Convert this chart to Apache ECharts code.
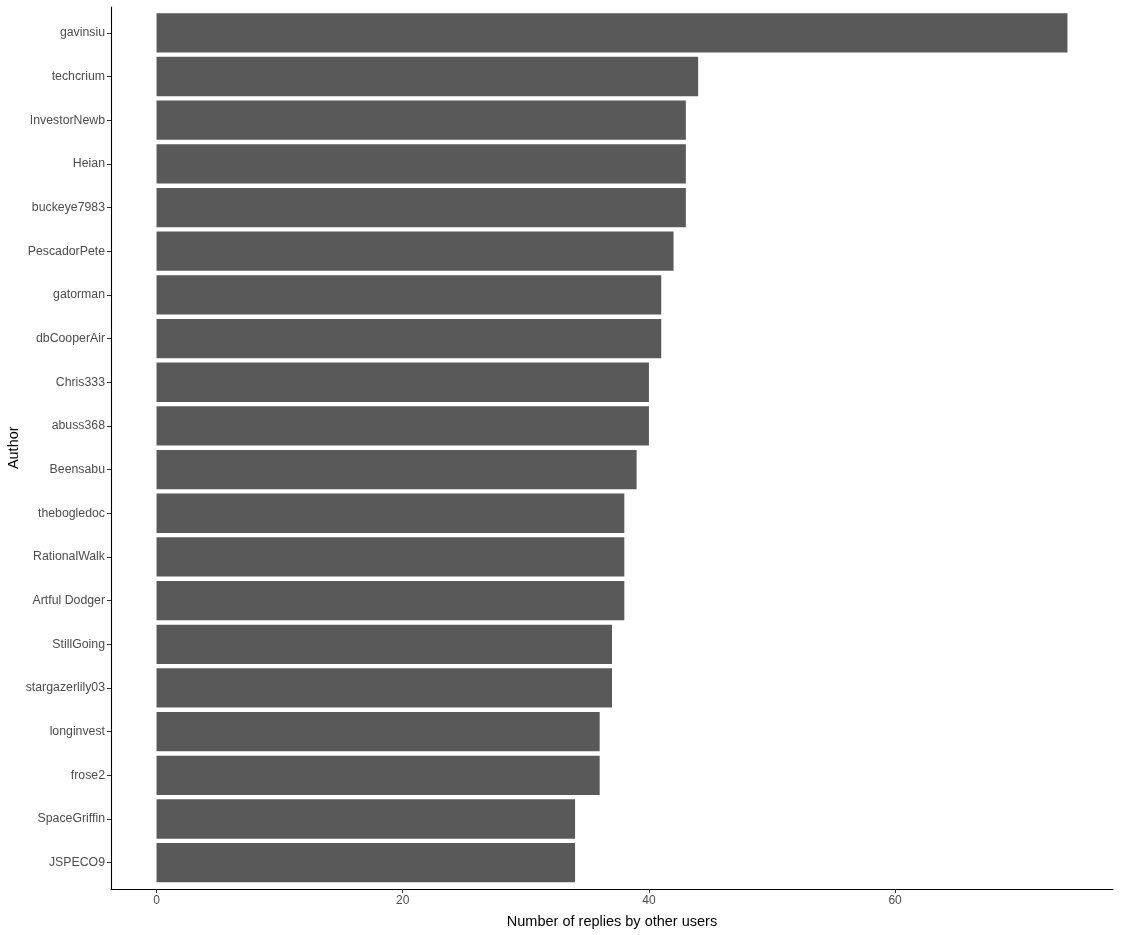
<!DOCTYPE html>
<html>
<head>
<meta charset="utf-8">
<script src="https://cdn.jsdelivr.net/npm/echarts@6/dist/echarts.min.js"></script>
<style>html,body{margin:0;padding:0;background:#fff;}#c{width:1122px;height:935px;}</style>
</head>
<body>
<div id="c"></div>
<script>
var authors = ["gavinsiu","techcrium","InvestorNewb","Heian","buckeye7983","PescadorPete","gatorman","dbCooperAir","Chris333","abuss368","Beensabu","thebogledoc","RationalWalk","Artful Dodger","StillGoing","stargazerlily03","longinvest","frose2","SpaceGriffin","JSPECO9"];
var replies = [74,44,43,43,43,42,41,41,40,40,39,38,38,38,37,37,36,36,34,34];
var xTicks = [0,20,40,60];

var font = 'Liberation Sans, Arial';
var chart = echarts.init(document.getElementById('c'));
chart.setOption({
  animation: false,
  backgroundColor: '#fff',
  grid: [
    {left: 111, right: 9, top: 11, bottom: 50.5, outerBoundsMode: 'none', containLabel: false},
    {left: 111, right: 9, top: 7, bottom: 46, outerBoundsMode: 'none', containLabel: false}
  ],
  xAxis: [{
    gridIndex: 0, type: 'value', min: -3.7, max: 77.7, show: false
  }, {
    gridIndex: 1, type: 'value', min: -3.7, max: 77.7,
    name: 'Number of replies by other users', nameLocation: 'middle', nameGap: 25,
    nameTextStyle: {color: '#000', fontSize: 14.5, fontFamily: font},
    axisLine: {show: true, onZero: false, lineStyle: {color: '#000', width: 1.1}},
    axisTick: {show: true, length: 4, customValues: xTicks, lineStyle: {color: '#333'}},
    axisLabel: {customValues: xTicks, color: '#4D4D4D', fontSize: 12, margin: 6, fontFamily: font},
    splitLine: {show: false}
  }],
  yAxis: [{
    gridIndex: 0, type: 'category', inverse: true, data: authors,
    name: 'Author', nameLocation: 'middle', nameGap: 90, nameRotate: 90, nameMoveOverlap: false,
    nameTextStyle: {color: '#000', fontSize: 14.5, fontFamily: font},
    axisLine: {show: false, onZero: false},
    axisTick: {show: true, length: 4, alignWithLabel: true, lineStyle: {color: '#333'}},
    axisLabel: {color: '#4D4D4D', fontSize: 12.3, margin: 6, fontFamily: font},
    splitLine: {show: false}
  }, {
    gridIndex: 1, type: 'value', min: 0, max: 1,
    axisLine: {show: true, onZero: false, lineStyle: {color: '#000', width: 1.1}},
    axisTick: {show: false}, axisLabel: {show: false}, splitLine: {show: false}
  }],
  series: [{
    type: 'bar', xAxisIndex: 0, yAxisIndex: 0, data: replies, barCategoryGap: '10%',
    itemStyle: {color: '#595959'}
  }]
});
</script>
</body>
</html>
